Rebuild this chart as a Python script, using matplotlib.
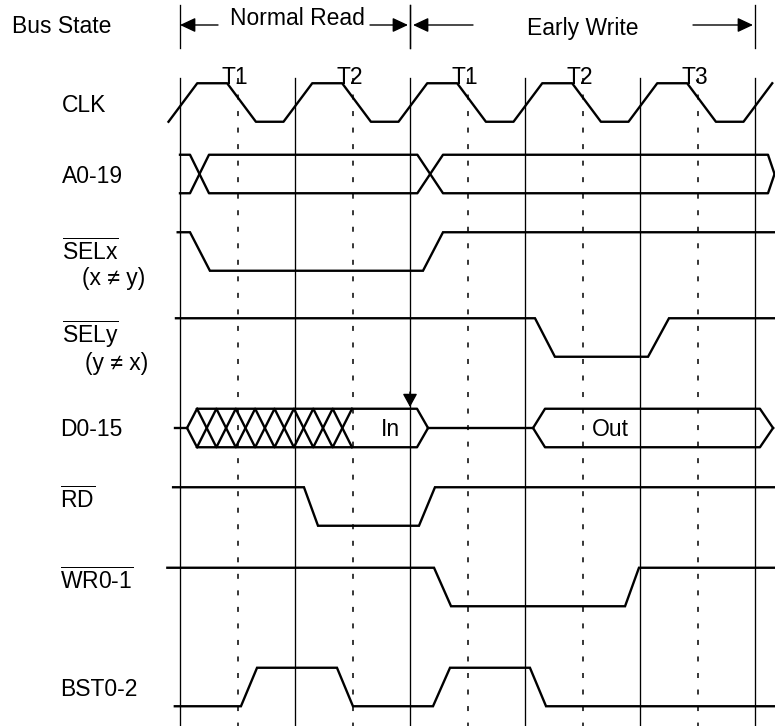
import matplotlib
matplotlib.use("Agg")
import matplotlib.pyplot as plt
import numpy as np

plt.rcParams["font.family"] = ["Liberation Sans", "DejaVu Sans"]
plt.rcParams["mathtext.fontset"] = "custom"
plt.rcParams["mathtext.rm"] = "Liberation Sans"
plt.rcParams["lines.scale_dashes"] = False

# ---- timing data (time in clock periods, t=0 is the first bus cycle start) ----
STATE_NAMES = ["T1", "T2", "T1", "T2", "T3"]
STATE_MIDS = [0.5, 1.5, 2.5, 3.5, 4.5]
CYCLE_BOUNDS = [0, 1, 2, 3, 4, 5]
BUS_CYCLES = [("Normal Read", 0, 2), ("Early Write", 2, 5)]

CLK_RISE = [-0.10, 0.90, 1.90, 2.90, 3.90, 4.90]
CLK_FALL = [0.41, 1.41, 2.41, 3.41, 4.41]
CLK_SLEW = 0.25
CLK_END = 5.15

# (start time, start level, [(edge start, edge end), ...])
SELX = (-0.02, 1, [(0.087, 0.26), (2.113, 2.287)])
SELY = (-0.035, 1, [(3.087, 3.26), (4.07, 4.252)])
RD = (-0.06, 1, [(1.078, 1.20), (2.078, 2.217)])
WR = (-0.11, 1, [(2.209, 2.357), (3.87, 3.991)])
BST = (-0.045, 0, [(0.53, 0.67), (1.365, 1.504), (2.20, 2.348), (3.043, 3.183)])
SIG_END = 5.2

# address bus: valid from t=0, changes, then closes at the right
A0_START = 0.0
A0_CHANGES = [(0.087, 0.252), (2.064, 2.287)]
A0_CLOSE = (5.113, 5.17)

# data bus: float -> open -> hatched (unstable) -> "In" -> close -> float -> "Out"
D_FLOAT1 = (-0.043, 0.061)
D_OPEN1 = (0.061, 0.148)
D_HATCH = (0.148, 1.496, 8)
D_CLOSE1 = (2.061, 2.157)
D_OPEN2 = (3.07, 3.174)
D_CLOSE2 = (5.043, 5.157)
D_SAMPLE = 2.0

# ---- layout (pixels) ----
W, H = 775, 726
X0, PERIOD = 180, 115
AMP = 19.25
ROWS = {"CLK": 102.5, "A0": 174, "SELX": 251.5, "SELY": 337.5,
        "D": 428, "RD": 506.5, "WR": 587, "BST": 687}
LW = 1.7
GRID_TOP = 78


def px(x):
    return (x - X0) / PERIOD


def level_y(row, lvl):
    return ROWS[row] - AMP if lvl else ROWS[row] + AMP


def digital(ax, row, t0, lvl, edges, t_end):
    xs, ys = [t0], [level_y(row, lvl)]
    for a, b in edges:
        xs.append(a); ys.append(level_y(row, lvl))
        lvl = 1 - lvl
        xs.append(b); ys.append(level_y(row, lvl))
    xs.append(t_end); ys.append(level_y(row, lvl))
    ax.plot(xs, ys, color="black", lw=LW, solid_joinstyle="miter")


fig = plt.figure(figsize=(W / 100, H / 100), dpi=100)
ax = fig.add_axes([0, 0, 1, 1])
ax.set_xlim(px(0), px(W))
ax.set_ylim(H, 0)
ax.axis("off")

# cycle grid
for t in CYCLE_BOUNDS:
    ax.plot([t, t], [GRID_TOP, H], color="black", lw=0.95)
for t in STATE_MIDS:
    ax.plot([t, t], [GRID_TOP, H], color="black", lw=1.1, dashes=(3.6, 8.3))

# bus state header
ax.text(px(12), 33, "Bus State", fontsize=16.5, ha="left", va="baseline")
for name, a, b in BUS_CYCLES:
    for t in (a, b):
        ax.plot([t, t], [5, 48], color="black", lw=0.95)
arrow = dict(arrowstyle="-|>,head_length=0.47,head_width=0.22", color="black",
             lw=1.0, shrinkA=0, shrinkB=0, mutation_scale=20)
ax.annotate("", xy=(0.0, 25), xytext=(px(218), 25), arrowprops=arrow)
ax.annotate("", xy=(px(408), 25), xytext=(px(370), 25), arrowprops=arrow)
ax.text(px(297), 25, BUS_CYCLES[0][0], fontsize=16.5, ha="center", va="baseline")
ax.annotate("", xy=(px(413), 25), xytext=(px(473), 25), arrowprops=arrow)
ax.annotate("", xy=(px(753), 25), xytext=(px(693), 25), arrowprops=arrow)
ax.text(px(583), 35, BUS_CYCLES[1][0], fontsize=16.5, ha="center", va="baseline")

for name, t in zip(STATE_NAMES, STATE_MIDS):
    ax.text(t - 0.02, 84, name, fontsize=16.5, ha="center", va="baseline")

# signal names
LBL_X = px(62)
labels = [
    ("CLK", 112, LBL_X), ("A0-19", 183, LBL_X),
    (r"$\overline{\mathrm{SELx}}$", 260, LBL_X), ("(x \u2260 y)", 285, px(82)),
    (r"$\overline{\mathrm{SELy}}$", 343, LBL_X), ("(y \u2260 x)", 370, px(85)),
    ("D0-15", 436, px(60)), (r"$\overline{\mathrm{RD}}$", 508, px(60)),
    (r"$\overline{\mathrm{WR0\text{-}1}}$", 589, px(60)), ("BST0-2", 696, px(60)),
]
for txt, yb, xl in labels:
    ax.text(xl, yb, txt, fontsize=16.5, ha="left", va="baseline")

# CLK
clk_edges = sorted([(s, s + CLK_SLEW) for s in CLK_RISE[1:]] +
                   [(s, s + CLK_SLEW) for s in CLK_FALL])
xs, ys = [CLK_RISE[0], CLK_RISE[0] + CLK_SLEW], [level_y("CLK", 0), level_y("CLK", 1)]
lvl = 1
for a, b in clk_edges:
    xs.append(a); ys.append(level_y("CLK", lvl))
    lvl = 1 - lvl
    xs.append(b); ys.append(level_y("CLK", lvl))
xs[-1] = min(xs[-1], CLK_END)
ax.plot(xs, ys, color="black", lw=LW)

# A0-19 bus
top, bot = level_y("A0", 1), level_y("A0", 0)
mid = ROWS["A0"]
for start_lvl in (1, 0):
    lx, ly = [A0_START], [level_y("A0", start_lvl)]
    cur = start_lvl
    for a, b in A0_CHANGES:
        lx.append(a); ly.append(level_y("A0", cur))
        cur = 1 - cur
        lx.append(b); ly.append(level_y("A0", cur))
    lx += [A0_CLOSE[0], A0_CLOSE[1]]
    ly += [level_y("A0", cur), mid]
    ax.plot(lx, ly, color="black", lw=LW)

# single-line signals
digital(ax, "SELX", *SELX, SIG_END)
digital(ax, "SELY", *SELY, SIG_END)
digital(ax, "RD", *RD, SIG_END)
digital(ax, "WR", *WR, SIG_END)
digital(ax, "BST", *BST, SIG_END)

# D0-15
dm, dt, db = ROWS["D"], level_y("D", 1), level_y("D", 0)
ax.plot([D_FLOAT1[0], D_FLOAT1[1]], [dm, dm], color="black", lw=LW)
for edge in (dt, db):
    ax.plot([D_OPEN1[0], D_OPEN1[1], D_CLOSE1[0], D_CLOSE1[1]],
            [dm, edge, edge, dm], color="black", lw=LW)
    ax.plot([D_OPEN2[0], D_OPEN2[1], D_CLOSE2[0], D_CLOSE2[1]],
            [dm, edge, edge, dm], color="black", lw=LW)
ax.plot([D_CLOSE1[1], D_OPEN2[0]], [dm, dm], color="black", lw=LW)
hx = np.linspace(D_HATCH[0], D_HATCH[1], D_HATCH[2] + 1)
zig = np.array([dt if i % 2 == 0 else db for i in range(len(hx))])
ax.plot(hx, zig, color="black", lw=LW)
ax.plot(hx, np.where(zig == dt, db, dt), color="black", lw=LW)
ax.text(px(390), 436, "In", fontsize=16.5, ha="center", va="baseline")
ax.text(px(610), 436, "Out", fontsize=16.5, ha="center", va="baseline")
ax.annotate("", xy=(D_SAMPLE, 407), xytext=(D_SAMPLE, 392),
            arrowprops=dict(arrowstyle="-|>,head_length=0.4,head_width=0.22",
                            color="black", lw=1.0, shrinkA=0, shrinkB=0,
                            mutation_scale=20))

fig.savefig("out.png", dpi=100)
